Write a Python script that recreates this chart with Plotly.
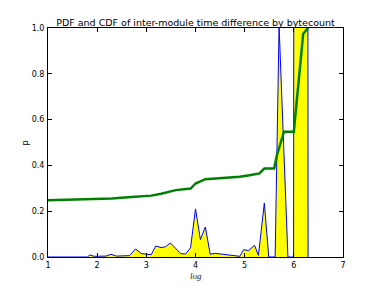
import plotly.graph_objects as go

# PDF (blue line, yellow fill)
pdf_x = [1.0, 1.8, 1.85, 1.94, 2.18, 2.28, 2.39, 2.66, 2.78, 2.9, 3.1, 3.19, 3.3, 3.39,
         3.49, 3.57, 3.7, 3.8, 3.9, 4.0, 4.1, 4.2, 4.3, 4.4, 4.69, 4.9, 4.98, 5.08, 5.2,
         5.28, 5.4, 5.49, 5.62, 5.70, 5.88, 5.995, 6.005, 6.28, 6.29]
pdf_y = [0.0, 0.0, 0.009, 0.003, 0.004, 0.012, 0.004, 0.006, 0.035, 0.015, 0.01, 0.048,
         0.041, 0.045, 0.061, 0.044, 0.015, 0.013, 0.041, 0.21, 0.076, 0.131, 0.012, 0.016,
         0.009, 0.003, 0.032, 0.028, 0.051, 0.007, 0.236, 0.0, 0.0, 1.01, 0.0, 0.0, 3.0,
         3.0, 0.0]

# CDF (green line)
cdf_x = [1.0, 1.8, 2.3, 2.7, 3.1, 3.3, 3.5, 3.6, 3.9, 4.0, 4.2, 4.9, 5.1, 5.3, 5.4,
         5.6, 5.65, 5.8, 6.0, 6.19, 6.29]
cdf_y = [0.248, 0.251, 0.255, 0.262, 0.268, 0.276, 0.287, 0.292, 0.299, 0.321, 0.340,
         0.350, 0.357, 0.365, 0.386, 0.386, 0.44, 0.547, 0.547, 0.975, 1.0]

x_ticks = [1, 2, 3, 4, 5, 6, 7]
y_ticks = [0.0, 0.2, 0.4, 0.6, 0.8, 1.0]

title_text = "PDF and CDF of inter-module time difference by bytecount"
x_label = "log"
y_label = "p"

fig = go.Figure()
fig.add_trace(go.Scatter(x=pdf_x, y=pdf_y, mode="lines", fill="tozeroy",
                         fillcolor="#ffff00", line=dict(color="#0000ff", width=1),
                         showlegend=False, hoverinfo="skip"))
fig.add_trace(go.Scatter(x=cdf_x, y=cdf_y, mode="lines",
                         line=dict(color="#008000", width=2.5),
                         showlegend=False, hoverinfo="skip"))

axis_common = dict(showgrid=False, zeroline=False, showline=True, linecolor="black",
                   linewidth=1, mirror="ticks", ticks="inside", ticklen=4,
                   tickcolor="black", tickwidth=1, automargin=False,
                   tickfont=dict(family="DejaVu Sans", size=8, color="black"))

fig.update_layout(
    width=382, height=286,
    margin=dict(l=48, r=39, t=28, b=29),
    paper_bgcolor="white", plot_bgcolor="white",
    title=dict(text=title_text, x=0.5, xref="paper", xanchor="center",
               y=1, yref="paper", yanchor="bottom", pad=dict(b=2), automargin=False,
               font=dict(family="DejaVu Sans", size=9.5, color="black")),
    xaxis=dict(range=[1, 7], tickvals=x_ticks, ticktext=[str(v) for v in x_ticks],
               ticklabelstandoff=0, **axis_common),
    yaxis=dict(range=[0, 1], tickvals=y_ticks, ticktext=["%.1f" % v for v in y_ticks],
               ticklabelstandoff=1, **axis_common),
    annotations=[
        dict(text="<i>" + x_label + "</i>", x=0.5, xref="paper", y=-0.082, yref="paper",
             xanchor="center", yanchor="middle", showarrow=False,
             font=dict(family="Liberation Serif", size=9, color="#222222")),
        dict(text=y_label, x=-0.075, xref="paper", y=0.5, yref="paper",
             xanchor="center", yanchor="middle", showarrow=False, textangle=-90,
             font=dict(family="DejaVu Sans", size=8, color="black")),
    ],
)

fig.write_html("out.html", config={"displayModeBar": False},
               post_script="document.body.style.margin='0';document.body.style.padding='0';")
